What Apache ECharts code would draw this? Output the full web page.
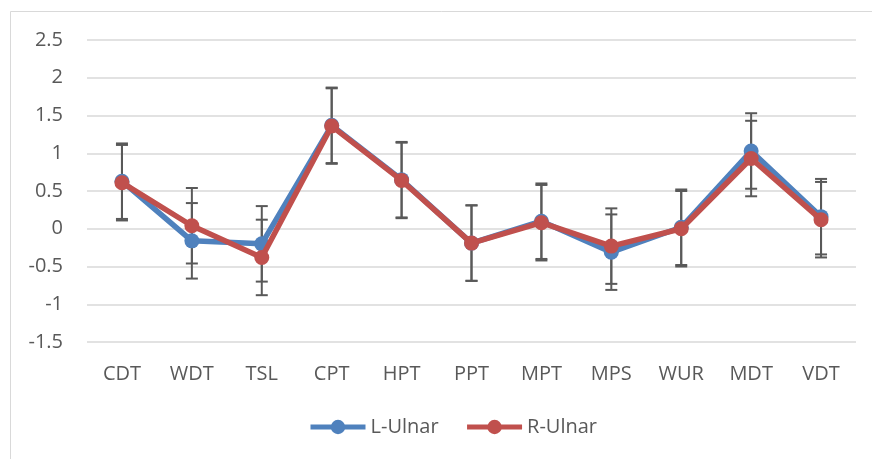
<!DOCTYPE html>
<html>
<head>
<meta charset="utf-8">
<script src="https://cdn.jsdelivr.net/npm/echarts@6/dist/echarts.min.js"></script>
<style>html,body{margin:0;padding:0;background:#fff;}#c{width:872px;height:459px;}</style>
</head>
<body>
<div id="c"></div>
<script>
const categories = ['CDT','WDT','TSL','CPT','HPT','PPT','MPT','MPS','WUR','MDT','VDT'];
const lUlnar = [0.63, -0.16, -0.20, 1.37, 0.65, -0.19, 0.10, -0.31, 0.02, 1.03, 0.16];
const rUlnar = [0.61, 0.04, -0.38, 1.36, 0.64, -0.19, 0.08, -0.23, 0.00, 0.93, 0.12];
const lErr = [0.5, 0.5, 0.5, 0.5, 0.5, 0.5, 0.5, 0.5, 0.5, 0.5, 0.5];
const rErr = [0.5, 0.5, 0.5, 0.5, 0.5, 0.5, 0.5, 0.5, 0.5, 0.5, 0.5];
const yTicks = {min: -1.5, max: 2.5, interval: 0.5};

const FONT = '"Open Sans", "Liberation Sans", sans-serif';
const TXT = '#595959';

function errData(vals, errs) {
  return vals.map((v, i) => [i, v - errs[i], v + errs[i]]);
}
function errRender(params, api) {
  const x = api.value(0);
  const lo = api.coord([x, api.value(1)]);
  const hi = api.coord([x, api.value(2)]);
  const hw = 6;
  const style = {stroke: '#595959', lineWidth: 2, fill: null};
  return {
    type: 'group',
    children: [
      {type: 'line', shape: {x1: hi[0], y1: hi[1], x2: lo[0], y2: lo[1]}, style: style},
      {type: 'line', shape: {x1: hi[0] - hw, y1: hi[1], x2: hi[0] + hw, y2: hi[1]}, style: style},
      {type: 'line', shape: {x1: lo[0] - hw, y1: lo[1], x2: lo[0] + hw, y2: lo[1]}, style: style}
    ]
  };
}

const chart = echarts.init(document.getElementById('c'), null, {renderer: 'canvas'});
chart.setOption({
  animation: false,
  backgroundColor: '#fff',
  graphic: [
    {type: 'line', shape: {x1: 10.5, y1: 11.5, x2: 872, y2: 11.5}, style: {stroke: '#d9d9d9', lineWidth: 1}},
    {type: 'line', shape: {x1: 10.5, y1: 11.5, x2: 10.5, y2: 459}, style: {stroke: '#d9d9d9', lineWidth: 1}}
  ],
  grid: {left: 87, right: 16, top: 40, bottom: 117},
  legend: {
    top: 417,
    left: 308,
    padding: 0,
    itemWidth: 55,
    itemHeight: 18,
    itemGap: 26,
    lineStyle: {width: 5},
    textStyle: {fontFamily: FONT, fontSize: 20, color: TXT},
    data: ['L-Ulnar', 'R-Ulnar']
  },
  xAxis: {
    type: 'category',
    data: categories,
    boundaryGap: true,
    axisLine: {show: false},
    axisTick: {show: false},
    axisLabel: {fontFamily: FONT, fontSize: 20, color: TXT, margin: 22}
  },
  yAxis: {
    type: 'value',
    min: yTicks.min,
    max: yTicks.max,
    interval: yTicks.interval,
    axisLine: {show: false},
    axisTick: {show: false},
    axisLabel: {fontFamily: FONT, fontSize: 20, color: TXT, margin: 24},
    splitLine: {lineStyle: {color: '#d9d9d9', width: 1.5}}
  },
  series: [
    {type: 'custom', name: 'errL', renderItem: errRender, data: errData(lUlnar, lErr), z: 1, silent: true},
    {type: 'custom', name: 'errR', renderItem: errRender, data: errData(rUlnar, rErr), z: 1, silent: true},
    {
      type: 'line', name: 'L-Ulnar', data: lUlnar, z: 3,
      symbol: 'circle', symbolSize: 15,
      lineStyle: {color: '#4F81BD', width: 5.5},
      itemStyle: {color: '#4F81BD'}
    },
    {
      type: 'line', name: 'R-Ulnar', data: rUlnar, z: 4,
      symbol: 'circle', symbolSize: 15,
      lineStyle: {color: '#C0504D', width: 5.5},
      itemStyle: {color: '#C0504D'}
    }
  ]
});
</script>
</body>
</html>
